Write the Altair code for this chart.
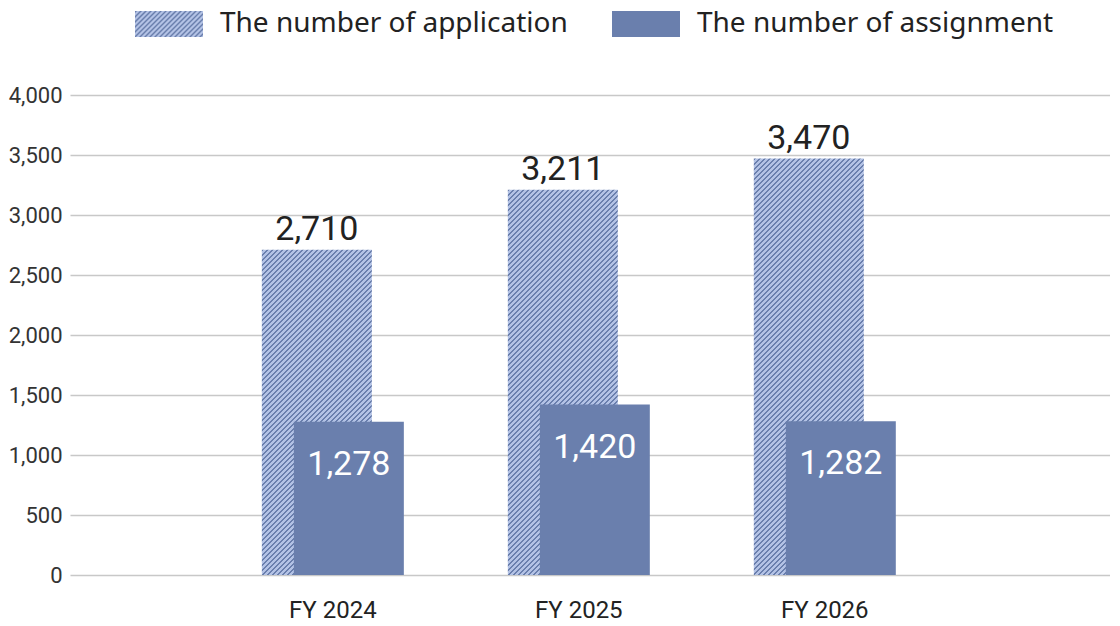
import altair as alt
import pandas as pd

# Chart values
years = ["FY 2024", "FY 2025", "FY 2026"]
applications = [2710, 3211, 3470]
assignments = [1278, 1420, 1282]
series = ["The number of application", "The number of assignment"]
y_ticks = [0, 500, 1000, 1500, 2000, 2500, 3000, 3500, 4000]

DARK = "#6a7fad"
LIGHT = "#b3c2e5"
PLOT_W = 1040
PLOT_H = 480
Y_MAX = 4000
BAR_W = 110
SHIFT = 16
STRIPE_DARK = 2.0   # px
STRIPE_LIGHT = 3.0  # px

# legend swatch: custom symbol path in units of sqrt(size)/2 = 17 px
SYM_SIZE = 1156
SYM_UNIT = 17.0
SW_X, SW_Y = 2.0, 0.765
SWATCH_PATH = f"M-{SW_X},-{SW_Y}H{SW_X}V{SW_Y}H-{SW_X}Z"


def hatch(w, h):
    """Diagonal '/' stripes at 45 degrees for a box of w x h pixels (bbox units)."""
    span = w + h
    period = STRIPE_DARK + STRIPE_LIGHT
    k = span / (w * w + h * h)
    stops = []
    s = 0.0
    while s < span:
        a = s / span
        m = min((s + STRIPE_DARK) / span, 1)
        b = min((s + period) / span, 1)
        stops += [
            alt.GradientStop(offset=a, color=DARK),
            alt.GradientStop(offset=m, color=DARK),
            alt.GradientStop(offset=m, color=LIGHT),
            alt.GradientStop(offset=b, color=LIGHT),
        ]
        s += period
    return alt.LinearGradient(gradient="linear", stops=stops, x1=0, y1=0, x2=w * k, y2=h * k)


def clip(poly, f, c, keep_ge):
    """Clip a convex polygon with the half plane f(p) >= c (or <= c)."""
    out = []
    n = len(poly)
    for i in range(n):
        p, q = poly[i], poly[(i + 1) % n]
        fp, fq = f(p) - c, f(q) - c
        ip = fp >= 0 if keep_ge else fp <= 0
        iq = fq >= 0 if keep_ge else fq <= 0
        if ip:
            out.append(p)
        if ip != iq:
            t = fp / (fp - fq)
            out.append((p[0] + t * (q[0] - p[0]), p[1] + t * (q[1] - p[1])))
    return out


def stripe_path():
    """Dark '/' stripes inside the legend swatch, as one SVG path."""
    rect = [(-SW_X, -SW_Y), (SW_X, -SW_Y), (SW_X, SW_Y), (-SW_X, SW_Y)]
    f = lambda p: p[0] + p[1]
    d = STRIPE_DARK / SYM_UNIT
    period = (STRIPE_DARK + STRIPE_LIGHT) / SYM_UNIT
    c = -(SW_X + SW_Y)
    parts = []
    while c < SW_X + SW_Y:
        poly = clip(clip(rect, f, c, True), f, c + d, False)
        if len(poly) >= 3:
            parts.append("M" + "L".join(f"{x:.3f},{y:.3f}" for x, y in poly) + "Z")
        c += period
    return "".join(parts)


app_df = pd.DataFrame({"year": years, "value": applications, "series": series[0]})
asg_df = pd.DataFrame({"year": years, "value": assignments, "series": series[1]})

x = alt.X(
    "year:N",
    sort=years,
    scale=alt.Scale(domain=years, paddingInner=0, paddingOuter=0.614, align=0.463),
    axis=alt.Axis(title=None, labelAngle=0, domain=False, ticks=False,
                  labelFont="Roboto", labelFontSize=24, labelColor="#222", labelPadding=23),
)
y = alt.Y(
    "value:Q",
    scale=alt.Scale(domain=[0, Y_MAX], nice=False),
    axis=alt.Axis(title=None, values=y_ticks, format=",d", domain=False, ticks=False,
                  grid=True, gridColor="#c8c8c8", gridWidth=1.5,
                  labelFont="Roboto", labelFontSize=22, labelColor="#333", labelPadding=8),
)

legend_common = dict(
    title=None, orient="none", legendX=82, legendY=-88, direction="horizontal",
    symbolSize=SYM_SIZE, symbolStrokeWidth=0, symbolOpacity=1,
    labelFont="Noto Sans", labelFontSize=28, labelOffset=34, columnPadding=44,
    labelLimit=0, padding=0,
)

# hatched application bars, one per year so the stripes keep 45 degrees
layers = []
for i, v in enumerate(applications):
    layers.append(
        alt.Chart(app_df.iloc[[i]]).mark_bar(
            width=BAR_W, xOffset=-SHIFT, fill=hatch(BAR_W, v * PLOT_H / Y_MAX)
        ).encode(x=x, y=y)
    )

asg_bars = alt.Chart(asg_df).mark_bar(width=BAR_W, xOffset=SHIFT).encode(
    x=x, y=y,
    color=alt.Color("series:N", scale=alt.Scale(domain=series, range=[LIGHT, DARK]),
                    legend=alt.Legend(symbolType=SWATCH_PATH, labelColor="#222",
                                      **legend_common)),
)

# second, label-less legend drawn over the first: the dark stripes of the swatch
stripes_key = alt.Chart(app_df).mark_point(filled=True, color=DARK, opacity=1).transform_calculate(
    hatch="'h'"
).transform_filter("false").encode(
    x=x, y=y,
    shape=alt.Shape("hatch:N", scale=alt.Scale(domain=["h", "n"], range=[stripe_path(), "M0,0Z"]),
                    legend=alt.Legend(labelExpr="''", symbolFillColor=DARK, zindex=1,
                                      **legend_common)),
)

app_text = alt.Chart(app_df).mark_text(
    xOffset=-SHIFT, dy=-20, font="Roboto", fontSize=34, color="#222"
).encode(x=x, y=y, text=alt.Text("value:Q", format=","))
asg_text = alt.Chart(asg_df).mark_text(
    xOffset=SHIFT, dy=43, font="Roboto", fontSize=34, color="white"
).encode(x=x, y=y, text=alt.Text("value:Q", format=","))

chart = alt.layer(*layers, asg_bars, stripes_key, app_text, asg_text).resolve_legend(
    color="independent", shape="independent"
).properties(
    width=PLOT_W, height=PLOT_H,
    autosize=alt.AutoSizeParams(type="none"),
    padding={"left": 62, "top": 87, "right": 0, "bottom": 52},
).configure_view(stroke=None)

chart.save("out.html", embed_options={"renderer": "svg", "actions": False})
